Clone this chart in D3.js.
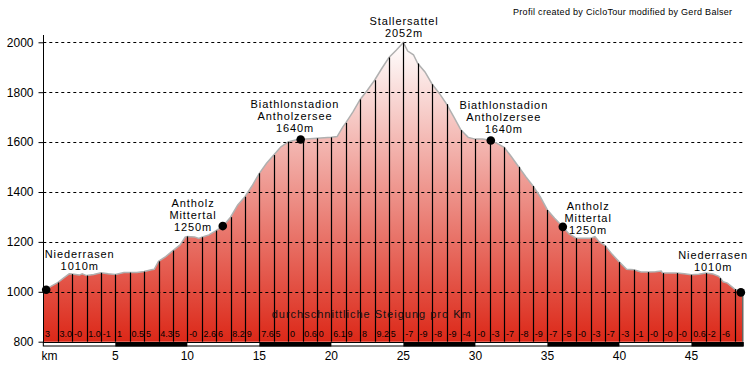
<!DOCTYPE html>
<html>
<head>
<meta charset="utf-8">
<script src="https://cdn.jsdelivr.net/npm/d3@7"></script>
<style>
  body { margin: 0; background: #fff; }
  svg { display: block; font-family: "Liberation Sans", Arial, sans-serif; }
</style>
</head>
<body>
<svg id="SVG_CONTAINER" width="749" height="367"></svg>
<script>
// ---- data ----
const kmPoints = [0, 0.5, 1, 1.4, 1.8, 2, 2.5, 2.7, 3, 3.5, 4, 4.5, 5, 5.6, 6, 6.5, 7, 7.5, 7.7, 8,
    8.5, 9, 9.5, 9.85, 10, 10.5, 10.8, 11, 11.5, 12, 12.5, 13, 13.5, 14, 14.5, 15, 15.5, 16, 16.5, 17,
    17.5, 18, 19, 20, 20.4, 20.8, 21, 21.5, 22, 22.5, 23, 23.5, 24, 24.5, 25, 25.3, 25.7, 26, 26.5, 27,
    27.5, 28, 28.5, 29, 29.5, 30, 30.5, 31, 31.5, 32, 32.5, 33, 33.5, 34, 34.5, 35, 35.5, 36, 36.5, 37,
    37.5, 38, 38.3, 38.6, 39, 39.5, 40, 40.5, 41, 41.5, 42, 42.5, 42.9, 43, 43.5, 44, 44.5, 45, 45.5, 46,
    46.5, 46.9, 47.2, 47.5, 48, 48.4, 48.6];
const elevation = [1000, 1021, 1037, 1055, 1072, 1071, 1067, 1072, 1065, 1069, 1076, 1072, 1069, 1077, 1077, 1077, 1081, 1088, 1090, 1122,
    1141, 1165, 1188, 1219, 1222, 1220, 1214, 1219, 1228, 1245, 1265, 1299, 1348, 1381, 1425, 1475, 1515, 1548, 1581, 1601,
    1608, 1611, 1615, 1619, 1622, 1661, 1677, 1721, 1771, 1808, 1848, 1895, 1939, 1968, 1999, 1965, 1950, 1915, 1881, 1832,
    1795, 1752, 1701, 1648, 1619, 1612, 1612, 1608, 1595, 1579, 1541, 1501, 1461, 1424, 1381, 1328, 1295, 1265, 1232, 1215,
    1215, 1215, 1221, 1201, 1185, 1150, 1119, 1090, 1088, 1079, 1079, 1080, 1083, 1075, 1075, 1075, 1072, 1068, 1070, 1075,
    1071, 1062, 1040, 1035, 1011, 998, 995];
const TOTAL_KM = 48.6;

// average gradient per km (as printed, one per km cell)
const gradeLabels = ["3", "3.0", "-0", "1.0", "-1", "1", "0.5", "5", "4.3", "5", "-0", "2.6", "6", "8.2", "9", "7.6",
    "5", "0", "0.6", "0", "6.1", "9", "8", "9.2", "5", "-7", "-9", "-8", "-9", "-4", "-0", "-3",
    "-7", "-8", "-9", "-7", "-5", "-0", "-3", "-7", "-3", "-1", "-0", "-0", "-0", "0.6", "-2", "-6"];

// places along the route
const placeLines = [["Niederrasen", "1010m"], ["Antholz", "Mittertal", "1250m"], ["Biathlonstadion", "Antholzersee", "1640m"],
    ["Stallersattel", "2052m"], ["Biathlonstadion", "Antholzersee", "1640m"], ["Antholz", "Mittertal", "1250m"], ["Niederrasen", "1010m"]];
const placeKm = [0.2, 12.46, 17.87, 25, 31.07, 36.07, 48.43];
const placeDot = [true, true, true, false, true, true, true];

const yTicks = [800, 1000, 1200, 1400, 1600, 1800, 2000];
const xTicks = [5, 10, 15, 20, 25, 30, 35, 40, 45];
const headerText = "Profil created by CicloTour modified by Gerd Balser";
const gradeTitle = "durchschnittliche Steigung pro Km";

// ---- layout ----
const width = 749, height = 367;
const MARGIN = { "LEFT": 43.3, "RIGHT": 5.7, "TOP": 42.3, "BOTTOM": 25.3 };
// label offset from its point: [dx of text centre, dy of last baseline]
const LABEL_OFFSET = [[33.5, -20], [-29.7, 4.7], [-5.7, -8], [0.7, -5.6], [13, -7.7], [25.3, 6.7], [-27.7, -21.7]];
const LINE_GAP = 11.7;

var svg = d3.select("#SVG_CONTAINER");

var xScale = d3.scaleLinear()
    .domain([0, TOTAL_KM])
    .range([MARGIN.LEFT, width - MARGIN.RIGHT]);

var yScale = d3.scaleLinear()
    .domain([800, 2000])
    .range([height - MARGIN.BOTTOM, MARGIN.TOP]);

var profile = kmPoints.map((k, i) => [k, elevation[i]]);

// linear interpolation of the height at a given km
function elevAt(k) {
    var i = d3.bisectLeft(kmPoints, k);
    if (i <= 0) return elevation[0];
    if (i >= kmPoints.length) return elevation[elevation.length - 1];
    var t = (k - kmPoints[i - 1]) / (kmPoints[i] - kmPoints[i - 1]);
    return elevation[i - 1] + t * (elevation[i] - elevation[i - 1]);
}

var crisp = v => Math.round(v) + 0.5;
var baseY = yScale(800);

// gradient fill, white on top to red at the base
var grad = svg.append("defs").append("linearGradient")
    .attr("id", "fillGrad")
    .attr("gradientUnits", "userSpaceOnUse")
    .attr("x1", 0).attr("x2", 0)
    .attr("y1", yScale(2000)).attr("y2", baseY);
grad.append("stop").attr("offset", "0%").attr("stop-color", "#ffffff");
grad.append("stop").attr("offset", "100%").attr("stop-color", "#dc2818");

var area = d3.area()
    .x(d => xScale(d[0]))
    .y0(baseY)
    .y1(d => yScale(d[1]));

svg.append("path")
    .datum(profile)
    .attr("d", area)
    .attr("fill", "url(#fillGrad)");

// dashed grid lines
svg.append("g").selectAll("line")
    .data(yTicks.filter(t => t > 800))
    .enter()
    .append("line")
    .attr("x1", xScale(0))
    .attr("x2", xScale(TOTAL_KM))
    .attr("y1", d => crisp(yScale(d)))
    .attr("y2", d => crisp(yScale(d)))
    .attr("stroke", "#000")
    .attr("stroke-dasharray", "3,3");

// profile outline
svg.append("path")
    .datum(profile)
    .attr("d", d3.line().x(d => xScale(d[0])).y(d => yScale(d[1])))
    .attr("fill", "none")
    .attr("stroke", "#b0b0b0")
    .attr("stroke-width", 1.5);

// a vertical line at every km
svg.append("g").selectAll("line")
    .data(d3.range(1, Math.floor(TOTAL_KM) + 1))
    .enter()
    .append("line")
    .attr("x1", d => crisp(xScale(d)))
    .attr("x2", d => crisp(xScale(d)))
    .attr("y1", d => yScale(elevAt(d)))
    .attr("y2", baseY)
    .attr("stroke", "#000")
    .attr("stroke-width", 1.2);

// closing line at the end of the route
svg.append("line")
    .attr("x1", xScale(TOTAL_KM) - 0.5)
    .attr("x2", xScale(TOTAL_KM) - 0.5)
    .attr("y1", yScale(elevAt(TOTAL_KM)))
    .attr("y2", baseY)
    .attr("stroke", "#2f8080");

// gradient per km
svg.append("g").selectAll("text")
    .data(gradeLabels)
    .enter()
    .append("text")
    .attr("x", (d, i) => xScale(i) + 1.8)
    .attr("y", baseY - 5)
    .attr("font-size", "9px")
    .attr("fill", "#000")
    .text(d => d);

svg.append("text")
    .attr("x", xScale(22.8))
    .attr("y", baseY - 23.5)
    .attr("text-anchor", "middle")
    .attr("font-size", "11px")
    .attr("letter-spacing", "1px")
    .attr("fill", "#111")
    .text(gradeTitle);

// y axis
var yAxis = d3.axisLeft(yScale)
    .tickValues(yTicks)
    .tickFormat(d3.format("d"))
    .tickSize(5)
    .tickPadding(5);

var yG = svg.append("g")
    .attr("transform", "translate(" + crisp(MARGIN.LEFT) + ",0)")
    .call(yAxis);
yG.select(".domain").remove();
yG.selectAll(".tick line").attr("stroke", "#000");
yG.selectAll("text")
    .attr("font-family", "'Liberation Sans', Arial, sans-serif")
    .attr("font-size", "12px")
    .attr("fill", "#000");

svg.append("line")
    .attr("x1", crisp(MARGIN.LEFT)).attr("x2", crisp(MARGIN.LEFT))
    .attr("y1", 35).attr("y2", baseY + 4)
    .attr("stroke", "#000");

// km scale bar, alternating white / black every 5 km
svg.append("rect")
    .attr("x", xScale(0))
    .attr("y", crisp(baseY))
    .attr("width", xScale(TOTAL_KM) - xScale(0))
    .attr("height", 3.5)
    .attr("fill", "#fff")
    .attr("stroke", "#000");

svg.append("g").selectAll("rect")
    .data(d3.range(5, TOTAL_KM, 10))
    .enter()
    .append("rect")
    .attr("x", d => xScale(d))
    .attr("y", crisp(baseY))
    .attr("width", d => xScale(Math.min(d + 5, TOTAL_KM)) - xScale(d))
    .attr("height", 4)
    .attr("fill", "#000");

svg.append("g").selectAll("text")
    .data(xTicks)
    .enter()
    .append("text")
    .attr("x", d => xScale(d))
    .attr("y", 360)
    .attr("text-anchor", "middle")
    .attr("font-size", "12px")
    .text(d => d);

svg.append("text")
    .attr("x", 41.5)
    .attr("y", 360)
    .attr("font-size", "12px")
    .text("km");

// places: dot + label
var places = svg.append("g");
placeKm.forEach(function (k, i) {
    var px = xScale(k), py = yScale(elevAt(k));
    if (placeDot[i]) {
        places.append("circle")
            .attr("cx", px).attr("cy", py)
            .attr("r", 4.3)
            .attr("fill", "#000");
    }
    var lines = placeLines[i];
    var lastY = py + LABEL_OFFSET[i][1];
    lines.forEach(function (s, j) {
        places.append("text")
            .attr("x", px + LABEL_OFFSET[i][0])
            .attr("y", lastY - (lines.length - 1 - j) * LINE_GAP)
            .attr("text-anchor", "middle")
            .attr("font-size", "11px")
            .attr("letter-spacing", "0.9px")
            .attr("fill", "#000")
            .text(s);
    });
});

svg.append("text")
    .attr("x", 513)
    .attr("y", 15)
    .attr("font-size", "9px")
    .attr("letter-spacing", "0.3px")
    .text(headerText);
</script>
</body>
</html>
